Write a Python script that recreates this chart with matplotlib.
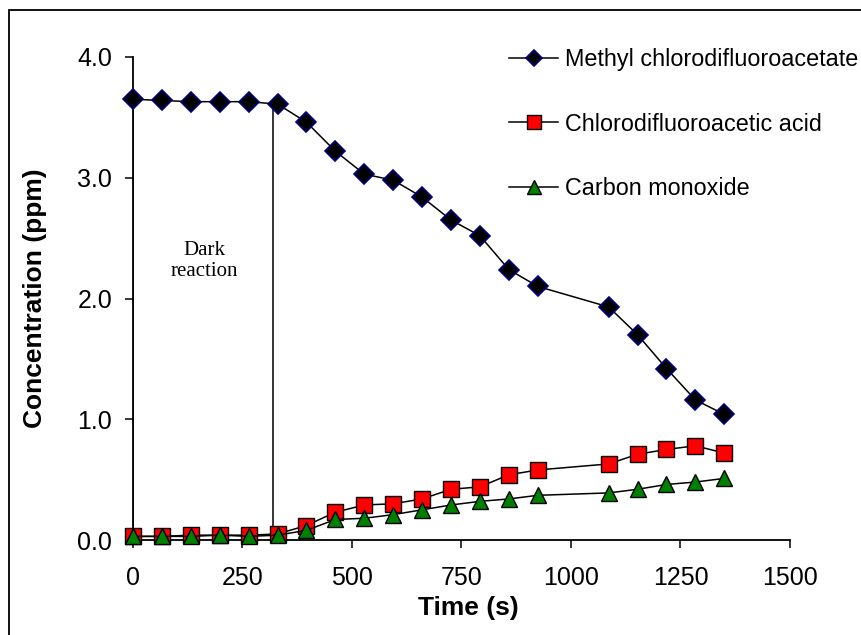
import matplotlib
matplotlib.use("Agg")
import matplotlib.pyplot as plt
from matplotlib.patches import Rectangle

# time axis (s) shared by all three series
times = [0, 66, 132, 198, 264, 330, 396, 462, 528, 594, 660, 726, 792, 858, 924,
         1086, 1152, 1218, 1284, 1350]

methyl = [3.65, 3.64, 3.63, 3.63, 3.63, 3.61, 3.46, 3.22, 3.03, 2.98, 2.84, 2.65,
          2.52, 2.24, 2.10, 1.93, 1.70, 1.42, 1.16, 1.04]
acid = [0.03, 0.03, 0.04, 0.04, 0.04, 0.05, 0.12, 0.23, 0.29, 0.30, 0.34, 0.42,
        0.44, 0.54, 0.58, 0.63, 0.71, 0.75, 0.78, 0.72]
co = [0.03, 0.03, 0.03, 0.04, 0.03, 0.04, 0.08, 0.17, 0.18, 0.21, 0.25, 0.29,
      0.32, 0.34, 0.37, 0.39, 0.42, 0.46, 0.48, 0.51]

series_names = ["Methyl chlorodifluoroacetate", "Chlorodifluoroacetic acid", "Carbon monoxide"]
dark_bounds = [0, 320]
dark_top = [3.65, 3.61]

x_ticks = [0, 250, 500, 750, 1000, 1250, 1500]
y_ticks = [0.0, 1.0, 2.0, 3.0, 4.0]

plt.rcParams['font.family'] = ['Liberation Sans', 'DejaVu Sans']

fig = plt.figure(figsize=(8.62, 6.35), dpi=100)
ax = fig.add_axes([133/862, 1-540/635, 657/862, 483/635])

ax.plot(times, methyl, color='black', lw=1.1, marker='D', ms=10,
        mfc='black', mec='#000080', mew=1.2, label=series_names[0], clip_on=False, zorder=3)
ax.plot(times, acid, color='black', lw=1.1, marker='s', ms=11.5,
        mfc='#ff0000', mec='black', mew=1.0, label=series_names[1], clip_on=False, zorder=3)
ax.plot(times, co, color='black', lw=1.1, marker='^', ms=12,
        mfc='#008000', mec='black', mew=1.0, label=series_names[2], clip_on=False, zorder=4)

ax.vlines(dark_bounds, 0, dark_top, colors='black', lw=1.1, zorder=2)
ax.text(164, 2.31, "Dark\nreaction", family='Liberation Serif', fontsize=15,
        ha='center', va='center', linespacing=1.1)

ax.set_xlim(0, 1500)
ax.set_ylim(0, 4.0)
ax.set_xticks(x_ticks)
ax.set_yticks(y_ticks)
ax.set_yticklabels(['%.1f' % v for v in y_ticks])
ax.tick_params(axis='both', labelsize=18, length=6, width=1.1, direction='out')
ax.tick_params(axis='x', pad=13)
ax.tick_params(axis='y', pad=9)

for side in ['top', 'right']:
    ax.spines[side].set_visible(False)
for side in ['left', 'bottom']:
    ax.spines[side].set_linewidth(1.3)

ax.set_xlabel("Time (s)", fontsize=19, fontweight='bold')
ax.set_ylabel("Concentration (ppm)", fontsize=19, fontweight='bold')
ax.xaxis.set_label_coords(0.51, -0.116)
ax.yaxis.set_label_coords(-0.131, 0.5)

ax.legend(loc='upper left', bbox_to_anchor=(509/862, 1-48/635), bbox_transform=fig.transFigure,
          frameon=False, fontsize=16.8, handlelength=2.1, handletextpad=0.3,
          labelspacing=1.78, borderpad=0, borderaxespad=0, markerscale=0.85)

# outer chart frame (cropped at right/bottom in the original)
fig.patches.append(Rectangle((9/862, -0.05), 1.1, 1-10/635+0.05, transform=fig.transFigure,
                             fill=False, edgecolor='black', lw=1.3))

fig.savefig("out.png", dpi=100)
